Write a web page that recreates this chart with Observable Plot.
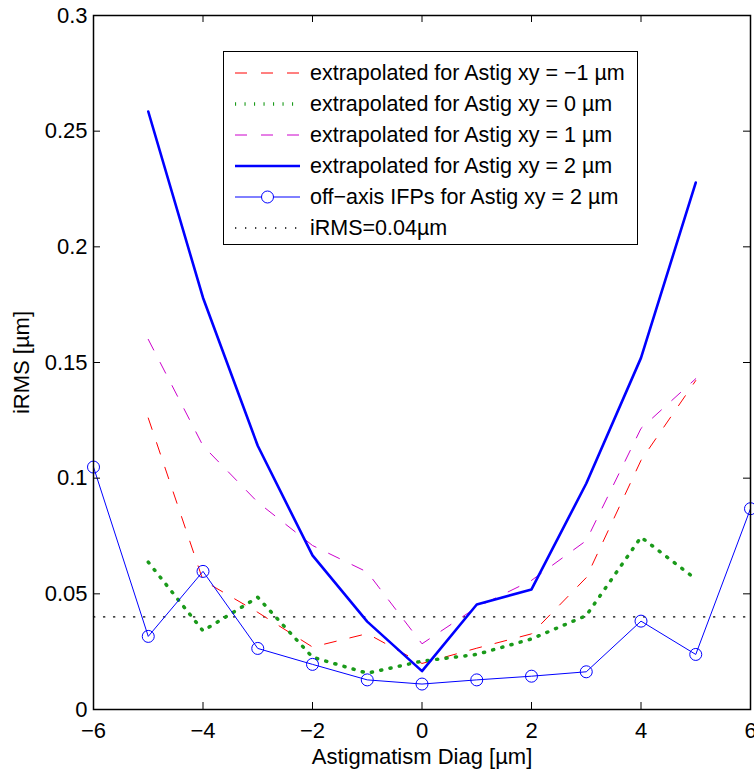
<!DOCTYPE html>
<html><head><meta charset="utf-8">
<script src="https://cdn.jsdelivr.net/npm/d3@7"></script>
<script src="https://cdn.jsdelivr.net/npm/@observablehq/plot@0.6"></script>
<style>
body{margin:0;background:#fff;}
#wrap{position:relative;width:754px;height:769px;font-family:"Liberation Sans",Arial,sans-serif;color:#000;}
#legend{position:absolute;left:223px;top:51px;width:413px;height:192px;border:1px solid #000;background:#fff;}
.row{position:absolute;left:0;height:31px;display:flex;align-items:center;}
.row svg{margin-left:11px;display:block;}
.row span{margin-left:10px;font-size:21.5px;white-space:nowrap;line-height:31px;}
</style></head><body><div id="wrap"></div>
<script>
// ---- data ----
const xExtrap = [-5, -4, -3, -2, -1, 0, 1, 2, 3, 4, 5];
const xIFP = [-6, -5, -4, -3, -2, -1, 0, 1, 2, 3, 4, 5, 6];
const extrapM1 = [0.126, 0.0558, 0.042, 0.027, 0.0328, 0.0199, 0.0265, 0.0327, 0.057, 0.1077, 0.1422];
const extrap0  = [0.0637, 0.034, 0.0485, 0.0226, 0.0157, 0.0209, 0.0238, 0.0305, 0.0406, 0.0745, 0.0564];
const extrap1  = [0.160, 0.114, 0.0896, 0.0709, 0.0594, 0.0284, 0.0442, 0.0558, 0.073, 0.1215, 0.143];
const extrap2  = [0.2585, 0.178, 0.114, 0.0666, 0.038, 0.0166, 0.0454, 0.0519, 0.0977, 0.152, 0.2278];
const ifp2     = [0.1048, 0.0316, 0.0597, 0.0264, 0.0195, 0.0128, 0.011, 0.0128, 0.0144, 0.0163, 0.0382, 0.0238, 0.0868];
const thresholdX = [-6, 6];
const thresholdY = 0.04;
const xTicks = [-6, -4, -2, 0, 2, 4, 6];
const yTicks = [0, 0.05, 0.1, 0.15, 0.2, 0.25, 0.3];
const legendLabels = [
  "extrapolated for Astig xy = \u22121 \u00b5m",
  "extrapolated for Astig xy = 0 \u00b5m",
  "extrapolated for Astig xy = 1 \u00b5m",
  "extrapolated for Astig xy = 2 \u00b5m",
  "off\u2212axis IFPs for Astig xy = 2 \u00b5m",
  "iRMS=0.04\u00b5m"
];

// ---- styles ----
const W = 754, H = 769, mL = 93, mR = 4, mT = 15, mB = 60;
const fw = W - mL - mR, fh = H - mT - mB, tk = 7;
const styles = [
  {stroke: "#ff0000", strokeWidth: 1, strokeDasharray: "12,14"},
  {stroke: "#1a9a1a", strokeWidth: 3.5, strokeDasharray: "1.1,8.4"},
  {stroke: "#cc00cc", strokeWidth: 1, strokeDasharray: "12,14"},
  {stroke: "#0000ff", strokeWidth: 2.6},
  {stroke: "#0000ff", strokeWidth: 1},
  {stroke: "#000000", strokeWidth: 1.3, strokeDasharray: "1.3,8.7"}
];
const fmt = d => d < 0 ? "\u2212" + Math.abs(d) : String(d);
const series = [extrapM1, extrap0, extrap1, extrap2];

const marks = [
  Plot.line(thresholdX, {x: d => d, y: () => thresholdY, ...styles[5]}),
  ...series.map((arr, k) => Plot.line(xExtrap, {x: d => d, y: (d, i) => arr[i], ...styles[k]})),
  Plot.line(xIFP, {x: d => d, y: (d, i) => ifp2[i], ...styles[4]}),
  Plot.dot(xIFP, {x: d => d, y: (d, i) => ifp2[i], r: 6, stroke: "#0000ff", strokeWidth: 1, fill: "none"}),
  Plot.ruleX(xTicks, {x: d => d, insetTop: fh - tk, stroke: "black", strokeWidth: 1}),
  Plot.ruleX(xTicks, {x: d => d, insetBottom: fh - tk, stroke: "black", strokeWidth: 1}),
  Plot.ruleY(yTicks, {y: d => d, insetRight: fw - tk, stroke: "black", strokeWidth: 1}),
  Plot.ruleY(yTicks, {y: d => d, insetLeft: fw - tk, stroke: "black", strokeWidth: 1}),
  Plot.frame({stroke: "black", strokeWidth: 1.5}),
  Plot.axisX(xTicks, {anchor: "bottom", tickSize: 0, tickPadding: 13, tickFormat: fmt, fontSize: 22,
    label: "Astigmatism Diag [\u00b5m]", labelAnchor: "center", labelOffset: 54, labelArrow: "none"}),
  Plot.axisY(yTicks, {anchor: "left", tickSize: 0, tickPadding: 6, tickFormat: fmt, fontSize: 22,
    label: "iRMS [\u00b5m]", labelAnchor: "center", labelOffset: 80, labelArrow: "none"})
];

const chart = Plot.plot({
  width: W, height: H, marginLeft: mL, marginRight: mR, marginTop: mT, marginBottom: mB,
  style: {fontFamily: '"Liberation Sans", Arial, sans-serif', fontSize: "22px", background: "white", color: "black", overflow: "visible"},
  x: {domain: [-6, 6], label: null},
  y: {domain: [0, 0.3], label: null},
  marks
});
const wrap = document.getElementById("wrap");
wrap.appendChild(chart);

// ---- legend ----
const leg = document.createElement("div");
leg.id = "legend";
legendLabels.forEach((lab, i) => {
  const row = document.createElement("div");
  row.className = "row";
  row.style.top = (5.5 + 31 * i) + "px";
  const s = styles[i];
  let svg = `<svg width="65" height="16" viewBox="0 0 65 16"><line x1="0" y1="8" x2="65" y2="8" stroke="${s.stroke}" stroke-width="${s.strokeWidth}" ${s.strokeDasharray ? `stroke-dasharray="${s.strokeDasharray}"` : ""}/>`;
  if (i === 4) svg += `<circle cx="32.5" cy="8" r="6" fill="white" stroke="#0000ff" stroke-width="1"/>`;
  svg += `</svg>`;
  row.innerHTML = svg + `<span>${lab}</span>`;
  leg.appendChild(row);
});
wrap.appendChild(leg);
</script>
</body></html>
